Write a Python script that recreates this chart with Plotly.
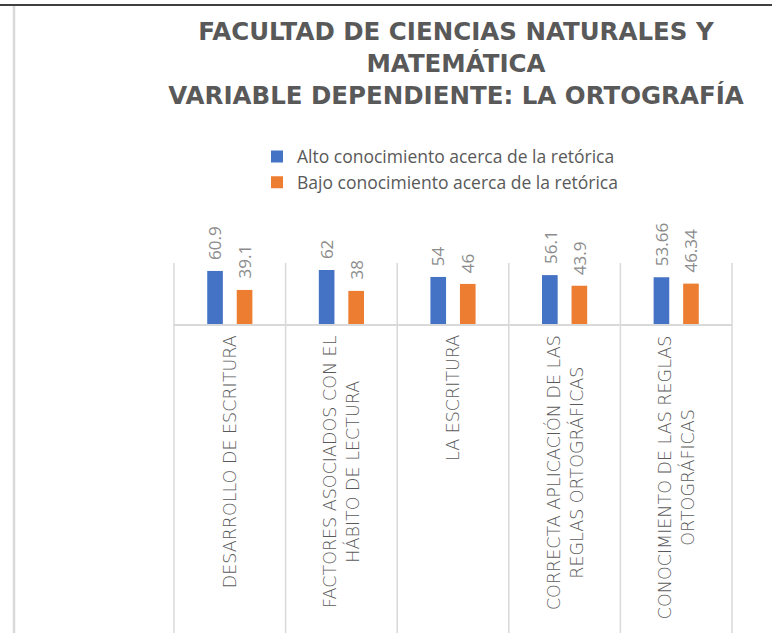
import plotly.graph_objects as go

# ---- data ----
categories = [
    "DESARROLLO DE ESCRITURA",
    "FACTORES ASOCIADOS CON EL<br>HÁBITO DE LECTURA",
    "LA ESCRITURA",
    "CORRECTA APLICACIÓN DE LAS<br>REGLAS ORTOGRÁFICAS",
    "CONOCIMIENTO DE LAS REGLAS<br>ORTOGRÁFICAS",
]
alto = [60.9, 62, 54, 56.1, 53.66]
bajo = [39.1, 38, 46, 43.9, 46.34]
alto_labels = ["60.9", "62", "54", "56.1", "53.66"]
bajo_labels = ["39.1", "38", "46", "43.9", "46.34"]
series_names = [
    "Alto conocimiento acerca de la retórica",
    "Bajo conocimiento acerca de la retórica",
]
title_lines = [
    "FACULTAD DE CIENCIAS NATURALES Y",
    "MATEMÁTICA",
    "VARIABLE DEPENDIENTE: LA ORTOGRAFÍA",
]

# ---- layout constants ----
W, H = 772, 633
L, R, T, B = 174, 40, 263, 309
PW, PH = W - L - R, H - T - B
BARGAP = 0.471
BARGROUPGAP = 0.47
OFF = (1 - BARGAP) / 4

BLUE = "#4472C4"
ORANGE = "#ED7D31"
GRID = "#D9D9D9"
TXT = "#595959"
LBL = "#8C8C8C"
FONT = "Open Sans"
WIDE = "DejaVu Sans"


def px_x(x):
    return (x - L) / PW


def px_y(y):
    return (H - B - y) / PH


fig = go.Figure()
fig.add_trace(go.Bar(x=list(range(len(categories))), y=alto, name=series_names[0],
                     marker=dict(color=BLUE, line=dict(width=0))))
fig.add_trace(go.Bar(x=list(range(len(categories))), y=bajo, name=series_names[1],
                     marker=dict(color=ORANGE, line=dict(width=0))))

annotations = []
for i, cat in enumerate(categories):
    annotations.append(dict(
        x=i, xref="x", y=px_y(333), yref="paper", text=cat,
        textangle=-90, xanchor="center", yanchor="top", align="center",
        showarrow=False, font=dict(family=WIDE, size=17.5, color=TXT, weight=300)))
    annotations.append(dict(
        x=i - OFF, xref="x", y=alto[i], yref="y", text=alto_labels[i],
        textangle=-90, xanchor="center", yanchor="bottom", yshift=9,
        showarrow=False, font=dict(family=FONT, size=17, color=LBL)))
    annotations.append(dict(
        x=i + OFF, xref="x", y=bajo[i], yref="y", text=bajo_labels[i],
        textangle=-90, xanchor="center", yanchor="bottom", yshift=9,
        showarrow=False, font=dict(family=FONT, size=17, color=LBL)))

shapes = []
for i in range(len(categories) + 1):
    xp = i / len(categories)
    shapes.append(dict(type="line", xref="paper", yref="paper",
                       x0=xp, x1=xp, y0=1, y1=px_y(H + 5),
                       line=dict(color=GRID, width=1.5)))
shapes.append(dict(type="line", xref="paper", yref="paper",
                   x0=px_x(0), x1=px_x(W), y0=px_y(5), y1=px_y(5),
                   line=dict(color="#000000", width=1.5)))
shapes.append(dict(type="line", xref="paper", yref="paper",
                   x0=px_x(14), x1=px_x(14), y0=px_y(6), y1=px_y(H + 5),
                   line=dict(color=GRID, width=2.5)))

fig.update_layout(
    width=W, height=H,
    margin=dict(l=L, r=R, t=T, b=B, pad=0),
    paper_bgcolor="white", plot_bgcolor="white",
    barmode="group", bargap=BARGAP, bargroupgap=BARGROUPGAP,
    title=dict(text="<br>".join(title_lines), x=456 / W, xref="container",
               xanchor="center", y=1 - 40 / H, yref="container", yanchor="top",
               font=dict(family=WIDE, size=24.5, color=TXT, weight="bold")),
    legend=dict(x=px_x(257), y=px_y(169.5), xanchor="left", yanchor="middle",
                font=dict(family=FONT, size=17.5, color=TXT),
                bgcolor="rgba(0,0,0,0)", traceorder="normal"),
    xaxis=dict(range=[-0.5, len(categories) - 0.5], showticklabels=False,
               showgrid=False, zeroline=False, showline=True,
               linecolor=GRID, linewidth=1.5, ticks=""),
    yaxis=dict(range=[0, 70], visible=False),
    annotations=annotations,
    shapes=shapes,
    showlegend=True,
)

fig.write_html("out.html", config={"displayModeBar": False},
               post_script="document.body.style.margin='0';")
